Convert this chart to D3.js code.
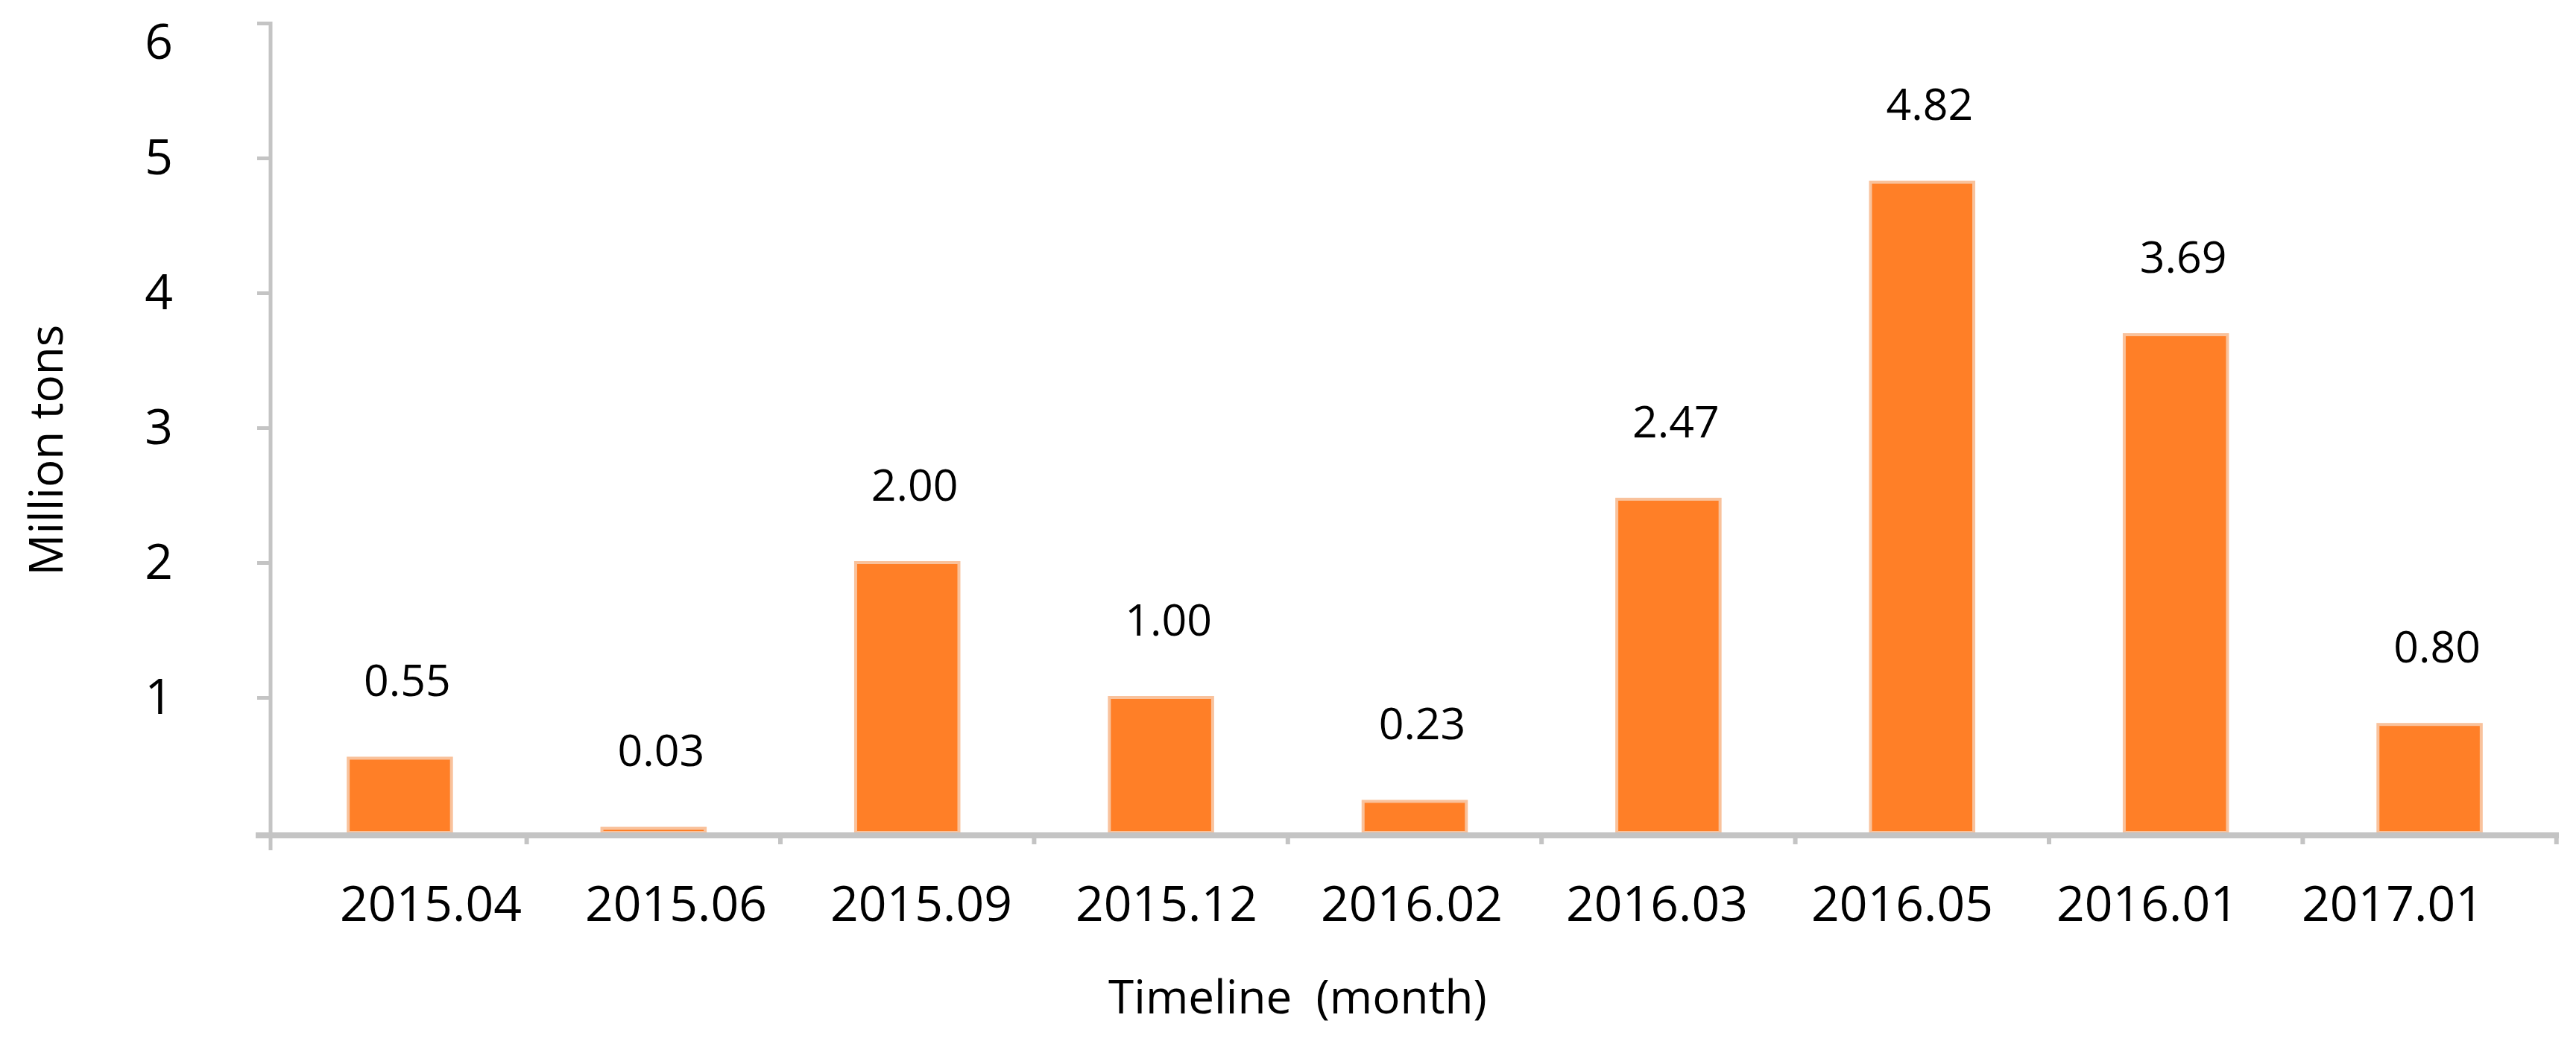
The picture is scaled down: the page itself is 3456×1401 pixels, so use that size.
<!DOCTYPE html>
<html>
<head>
<meta charset="utf-8">
<script src="https://cdn.jsdelivr.net/npm/d3@7"></script>
<style>
  html, body { margin: 0; padding: 0; background: #ffffff; }
  svg { display: block; }
  text { font-family: "Open Sans", "Noto Sans", sans-serif; fill: #000; }
</style>
</head>
<body>
<svg id="chart" width="3456" height="1401"></svg>
<script>
// ---- data ----
const categories = ["2015.04", "2015.06", "2015.09", "2015.12", "2016.02", "2016.03", "2016.05", "2016.01", "2017.01"];
const values = [0.55, 0.03, 2.00, 1.00, 0.23, 2.47, 4.82, 3.69, 0.80];
const valueLabels = ["0.55", "0.03", "2.00", "1.00", "0.23", "2.47", "4.82", "3.69", "0.80"];
const yTickValues = [1, 2, 3, 4, 5, 6];
const yTitle = "Million tons";
const xTitle = "Timeline  (month)";

// ---- layout ----
const W = 3456, H = 1401;
const axisX = 363, axisRight = 3433;
const yBottom = 1117, yTop = 31;
const axisColor = "#c4c4c4";

const svg = d3.select("#chart");

const x = d3.scaleBand()
  .domain(categories)
  .range([axisX, axisRight])
  .paddingInner(0.593)
  .paddingOuter(0.306);

const xLabel = d3.scalePoint()
  .domain(categories)
  .range([578, 3210]);

const y = d3.scaleLinear()
  .domain([0, 6])
  .range([yBottom, yTop]);

// ---- bars ----
svg.append("g").selectAll("rect")
  .data(values)
  .join("rect")
  .attr("x", (d, i) => x(categories[i]))
  .attr("y", d => y(d))
  .attr("width", x.bandwidth())
  .attr("height", d => y(0) - y(d))
  .attr("fill", "#ff7f27")
  .attr("stroke", "#f9c29c")
  .attr("stroke-width", 4);

// ---- y axis ----
const yAxis = d3.axisLeft(y)
  .tickValues(yTickValues)
  .tickSize(18)
  .tickSizeOuter(0)
  .tickPadding(112)
  .tickFormat(d3.format("d"));

const gy = svg.append("g")
  .attr("transform", `translate(${axisX},0)`)
  .call(yAxis);
gy.select(".domain").remove();
gy.selectAll(".tick line").attr("stroke", axisColor).attr("stroke-width", 5);
gy.selectAll(".tick text")
  .style("font-size", "66px")
  .attr("text-anchor", "middle")
  .attr("x", -150)
  .attr("fill", "#000");
// the top label sits a little below its tick so it stays inside the frame
gy.selectAll(".tick text").filter(d => d === 6).attr("y", 26);

// y axis line (extends a little below baseline)
svg.append("line")
  .attr("x1", axisX).attr("x2", axisX)
  .attr("y1", y(6) - 2).attr("y2", y(0) + 24)
  .attr("stroke", axisColor).attr("stroke-width", 5);

// ---- x axis ----
svg.append("line")
  .attr("x1", axisX - 20).attr("x2", axisRight)
  .attr("y1", y(0) + 4).attr("y2", y(0) + 4)
  .attr("stroke", axisColor).attr("stroke-width", 8);

// boundary ticks between categories
const boundaries = categories.map((c, i) => x(c) + x.bandwidth() + x.step() * x.paddingInner() / 2);
svg.append("g").selectAll("line")
  .data(boundaries)
  .join("line")
  .attr("x1", d => d).attr("x2", d => d)
  .attr("y1", y(0) + 4).attr("y2", y(0) + 16)
  .attr("stroke", axisColor).attr("stroke-width", 6);

// category labels
svg.append("g").selectAll("text")
  .data(categories)
  .join("text")
  .attr("x", d => xLabel(d))
  .attr("y", 1213)
  .attr("dy", "0.35em")
  .attr("text-anchor", "middle")
  .style("font-size", "66px")
  .text(d => d);

// value labels
svg.append("g").selectAll("text")
  .data(values)
  .join("text")
  .attr("x", (d, i) => x(categories[i]) + x.bandwidth() / 2 + 10)
  .attr("y", d => y(d) - 104)
  .attr("dy", "0.35em")
  .attr("text-anchor", "middle")
  .style("font-size", "59px")
  .text((d, i) => valueLabels[i]);

// ---- titles ----
svg.append("text")
  .attr("transform", `translate(62,${604}) rotate(-90)`)
  .attr("dy", "0.35em")
  .attr("text-anchor", "middle")
  .style("font-size", "62px")
  .text(yTitle);

svg.append("text")
  .attr("x", 1741)
  .attr("y", 1338)
  .attr("dy", "0.35em")
  .attr("text-anchor", "middle")
  .style("font-size", "62px")
  .style("white-space", "pre")
  .text(xTitle);
</script>
</body>
</html>
